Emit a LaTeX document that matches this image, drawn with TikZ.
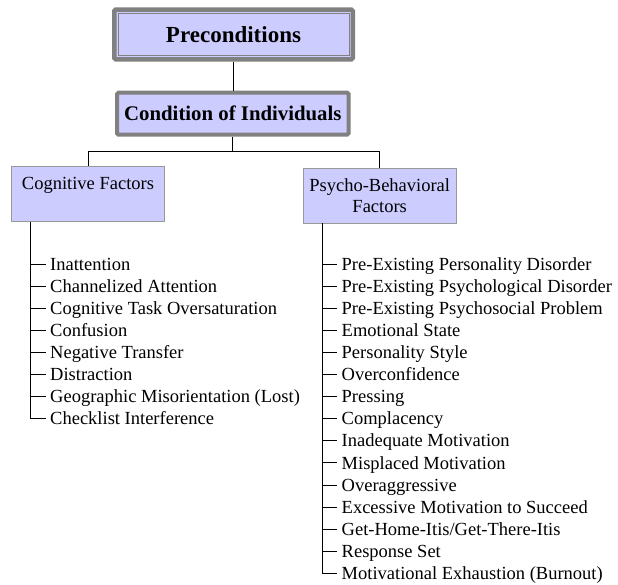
\documentclass[tikz,border=0pt]{standalone}
\usepackage{fontspec}
\setmainfont{Liberation Serif}
\usepackage{tikz}
\definecolor{boxfill}{HTML}{CCCCFF}
\definecolor{boxframe}{HTML}{808080}
\definecolor{boxedge}{HTML}{999999}
\tikzset{
	headbox/.style={draw=boxframe, fill=boxfill, line width=4.5pt, rounded corners=1.5pt, inner sep=0pt},
	groupbox/.style={draw=boxedge, fill=boxfill, line width=0.9pt, minimum width=153pt, minimum height=55pt, align=center, inner sep=0pt, font=\fontsize{18.5}{20.7}\selectfont},
	leaf/.style={anchor=west, inner xsep=4.5pt, inner ysep=0pt, text height=12.2pt, text depth=0pt, font=\fontsize{18.5}{22}\selectfont},
	link/.style={line width=0.9pt}
}

\begin{document}
\begin{tikzpicture}[x=1pt, y=-1pt]
	\useasboundingbox (0,0) rectangle (618,584);
	% top of the tree
	\node[headbox, minimum width=238.5pt, minimum height=49.9pt, font=\bfseries\fontsize{23}{26}\selectfont] (pre) at (233.5, 34.5) {Preconditions};
	\draw[boxframe, line width=0.8pt] ([shift={(6,6)}]pre.north west) rectangle ([shift={(-6,-6)}]pre.south east);
	\node[headbox, line width=4pt, minimum width=231.7pt, minimum height=42pt, font=\bfseries\fontsize{20.8}{24}\selectfont] (cond) at (232.85, 113.7) {Condition of Individuals};
	\draw[link] (pre.south) -- (pre.south |- cond.north);
	% the two groups
	\node[groupbox] (cog) at (88, 194) {Cognitive Factors\\\mbox{}};
	\node[groupbox] (psy) at (379.7, 195.5) {Psycho-Behavioral\\Factors};
	\draw[link] (cond.south) -- ++(0,15) coordinate (split) -| (cog.north);
	\draw[link] (split) -| (psy.north);
	\coordinate (cogroot) at ([xshift=19pt]cog.south west);
	\coordinate (psyroot) at ([xshift=20pt]psy.south west);
	% leaves
	\foreach \txt [count=\i from 0] in {Inattention, Channelized Attention, Cognitive Task Oversaturation, Confusion, Negative Transfer, Distraction, Geographic Misorientation (Lost), Checklist Interference}
		\node[leaf] (cogitem\i) at (45.5, 264+22.1*\i) {\txt};
	\foreach \txt [count=\i from 0] in {Pre-Existing Personality Disorder, Pre-Existing Psychological Disorder, Pre-Existing Psychosocial Problem, Emotional State, Personality Style, Overconfidence, Pressing, Complacency, Inadequate Motivation, Misplaced Motivation, Overaggressive, Excessive Motivation to Succeed, Get-Home-Itis/Get-There-Itis, Response Set, Motivational Exhaustion (Burnout)}
		\node[leaf] (psyitem\i) at (337, 264+22.1*\i) {\txt};
	\draw[link] (cogroot) |- (cogitem7.west);
	\foreach \i in {0,...,6}
		\draw[link] (cogroot |- cogitem\i.west) -- (cogitem\i.west);
	\draw[link] (psyroot) |- (psyitem14.west);
	\foreach \i in {0,...,13}
		\draw[link] (psyroot |- psyitem\i.west) -- (psyitem\i.west);
\end{tikzpicture}
\end{document}
